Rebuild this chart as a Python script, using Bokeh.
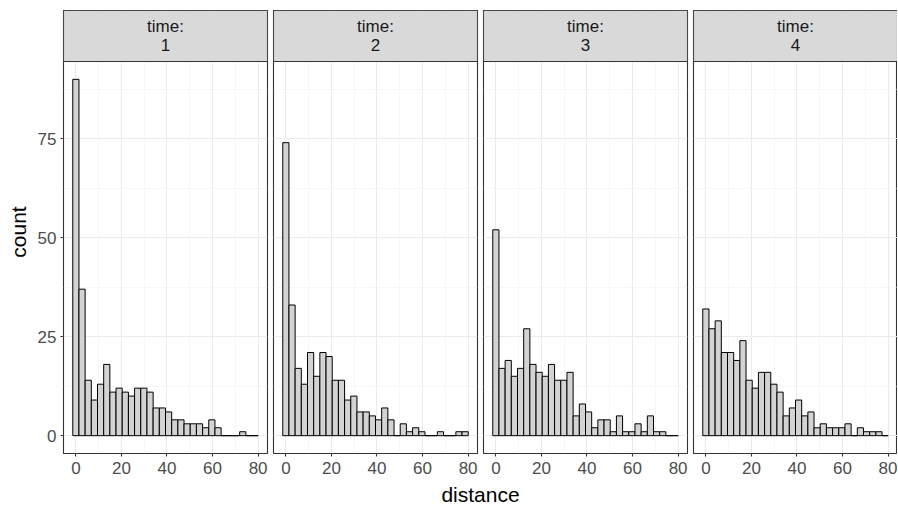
from bokeh.plotting import figure
from bokeh.layouts import row, column
from bokeh.models import Range1d, FixedTicker, Label
from bokeh.core.properties import value
from bokeh.embed import file_html
from bokeh.resources import INLINE

# ---- data (30 bins) ----
times = ["1", "2", "3", "4"]
counts_t1 = [90, 37, 14, 9, 13, 18, 11, 12, 11, 10, 12, 12, 11, 7, 7, 6, 4, 4, 3, 3, 3, 2, 4, 2, 0, 0, 0, 1, 0, 0]
counts_t2 = [74, 33, 17, 13, 21, 15, 21, 20, 14, 14, 9, 10, 6, 6, 5, 4, 7, 4, 0, 3, 1, 2, 1, 0, 0, 1, 0, 0, 1, 1]
counts_t3 = [52, 17, 19, 15, 17, 27, 18, 16, 15, 18, 14, 14, 16, 5, 8, 6, 2, 4, 4, 1, 5, 1, 1, 3, 1, 5, 1, 1, 0, 0]
counts_t4 = [32, 27, 29, 21, 21, 19, 24, 14, 12, 16, 16, 13, 11, 5, 7, 9, 5, 6, 2, 3, 2, 2, 2, 3, 0, 2, 1, 1, 1, 0]
all_counts = [counts_t1, counts_t2, counts_t3, counts_t4]

dist_min, dist_max, n_bins = 0.0, 78.7, 30
x_ticks = [0, 20, 40, 60, 80]
x_minor = [10, 30, 50, 70]
y_ticks = [0, 25, 50, 75]
y_minor = [12.5, 37.5, 62.5, 87.5]

# ---- binning as ggplot2 does (bins centred on the minimum) ----
binw = (dist_max - dist_min) / (n_bins - 1)
lefts = [dist_min - binw / 2 + i * binw for i in range(n_bins)]
rights = [l + binw for l in lefts]
xlo, xhi = lefts[0], rights[-1]
xpad = 0.05 * (xhi - xlo)
ymax = max(max(c) for c in all_counts)
ypad = 0.05 * ymax
y0, y1 = -ypad, ymax + ypad

DATA_PX, STRIP_PX, FRAME_W = 392, 51, 204
ytop = y1 + STRIP_PX * (y1 - y0) / DATA_PX
LEFT_B, TOP_B, BOT_B, GAP = 63, 10, 27, 3
BOTTOM_H = 507 - TOP_B - DATA_PX - STRIP_PX - BOT_B

FONT = "Liberation Sans"

def panel(i, counts):
    first = i == 0
    last = i == len(times) - 1
    p = figure(
        frame_width=FRAME_W, frame_height=DATA_PX + STRIP_PX,
        x_range=Range1d(xlo - xpad, xhi + xpad), y_range=Range1d(y0, ytop),
        output_backend="svg", toolbar_location=None,
        y_axis_location="left" if first else None,
        min_border_left=LEFT_B if first else GAP,
        min_border_right=0 if last else GAP,
        min_border_top=TOP_B, min_border_bottom=BOT_B,
        background_fill_color="white", border_fill_color="white",
        outline_line_color="#333333", outline_line_width=1.1,
    )
    # grid
    p.xgrid.ticker = FixedTicker(ticks=x_ticks, minor_ticks=x_minor)
    p.ygrid.ticker = FixedTicker(ticks=y_ticks, minor_ticks=y_minor)
    for g in (p.xgrid, p.ygrid):
        g.grid_line_color = "#EBEBEB"
        g.grid_line_width = 1.1
        g.minor_grid_line_color = "#F2F2F2"
        g.minor_grid_line_width = 0.6
    # x axis
    xa = p.xaxis[0]
    xa.ticker = FixedTicker(ticks=x_ticks)
    xa.axis_line_color = None
    xa.major_tick_line_color = "#333333"
    xa.major_tick_line_width = 1.1
    xa.major_tick_out = 3
    xa.major_tick_in = 0
    xa.minor_tick_line_color = None
    xa.major_label_text_font = FONT
    xa.major_label_text_font_size = "17px"
    xa.major_label_text_color = "#4D4D4D"
    xa.major_label_standoff = 5
    if first:
        ya = p.yaxis[0]
        ya.ticker = FixedTicker(ticks=y_ticks)
        ya.axis_line_color = None
        ya.major_tick_line_color = "#333333"
        ya.major_tick_line_width = 1.1
        ya.major_tick_out = 3
        ya.major_tick_in = 0
        ya.minor_tick_line_color = None
        ya.major_label_text_font = FONT
        ya.major_label_text_font_size = "17px"
        ya.major_label_text_color = "#4D4D4D"
        ya.major_label_standoff = 4
        ya.axis_label = "count"
        ya.axis_label_text_font = FONT
        ya.axis_label_text_font_size = "21px"
        ya.axis_label_text_font_style = "normal"
        ya.axis_label_text_color = "black"
        ya.axis_label_standoff = 5
    # bars
    p.quad(left=lefts, right=rights, bottom=0, top=counts,
           fill_color="#D3D3D3", line_color="black", line_width=1)
    # facet strip
    p.quad(left=[xlo - xpad], right=[xhi + xpad], bottom=[y1], top=[ytop],
           fill_color="#D9D9D9", line_color="#333333", line_width=1.1)
    p.text(x=[(xlo + xhi) / 2], y=[(y1 + ytop) / 2], text=["time:\n" + times[i]],
           text_align="center", text_baseline="middle",
           text_font=value(FONT), text_font_size="17px",
           text_color="#1A1A1A", text_line_height=1.0)
    return p

panels = [panel(i, c) for i, c in enumerate(all_counts)]

total_w = LEFT_B + 4 * FRAME_W + 6 * GAP
bottom = figure(width=total_w, height=BOTTOM_H, output_backend="svg", toolbar_location=None,
                x_axis_location=None, y_axis_location=None, min_border=0,
                outline_line_color=None, background_fill_color="white", border_fill_color="white")
bottom.xgrid.visible = False
bottom.ygrid.visible = False
bottom.add_layout(Label(x=LEFT_B + (4 * FRAME_W + 6 * GAP) / 2, y=BOTTOM_H / 2, x_units="screen", y_units="screen",
                        text="distance", text_align="center", text_baseline="middle",
                        text_font=FONT, text_font_size="21px", text_color="black"))

layout = column(row(*panels, spacing=0), bottom, spacing=0)
open("out.html", "w").write(file_html(layout, INLINE))
